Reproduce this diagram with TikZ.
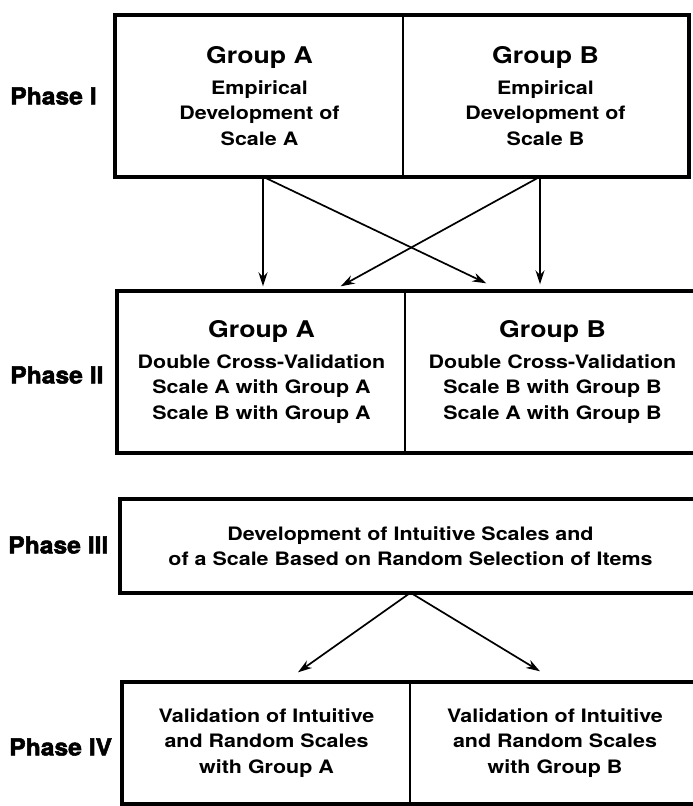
\documentclass[tikz,border=0pt]{standalone}
\usepackage{fontspec}
\setmainfont{TeX Gyre Heros}
\newfontfamily\bodyfam{TeX Gyre Heros}[FakeStretch=1.16]
\newfontfamily\phasefam{TeX Gyre Heros}[FakeStretch=1.05,BoldFeatures={FakeBold=2.2}]
\usetikzlibrary{arrows.meta,calc}
\newcommand{\headtxt}{\fontsize{23}{28}\selectfont\bfseries}
\tikzset{
  cell/.style={draw, line width=1.4pt, inner sep=0pt, align=center,
    font=\bodyfam\fontsize{18.5}{25.5}\selectfont\bfseries},
  frame/.style={draw, line width=4.2pt, line join=miter},
  phase/.style={anchor=west, inner sep=0pt, font=\phasefam\fontsize{23.5}{28}\selectfont\bfseries},
  arr/.style={line width=1.7pt, -{Stealth[length=14pt,width=9pt]}},
}
\begin{document}
\begin{tikzpicture}[x=1pt,y=-1pt]
\useasboundingbox (0,0) rectangle (693,806);
\clip (0,0) rectangle (693,806);
\fill[white] (0,0) rectangle (693,806);

% Phase I
\node[cell, minimum width=287pt, minimum height=160pt] (p1a) at (259.5,96)
  {{\headtxt Group A}\\[5pt] Empirical\\ Development of\\ Scale A};
\node[cell, minimum width=285pt, minimum height=160pt] (p1b) at (545.5,96)
  {{\headtxt Group B}\\[5pt] Empirical\\ Development of\\ Scale B};
\draw[frame] (p1a.north west) rectangle (p1b.south east);

% Phase II
\node[cell, minimum width=287pt, minimum height=160pt] (p2a) at (261.5,372)
  {{\headtxt Group A}\\[5pt] Double Cross-Validation\\ Scale A with Group A\\ Scale B with Group A};
\node[cell, minimum width=295pt, minimum height=160pt] (p2b) at (552.5,372)
  {{\headtxt Group B}\\[5pt] Double Cross-Validation\\ Scale B with Group B\\ Scale A with Group B};
\draw[frame] (p2a.north west) rectangle (p2b.south east);

% Phase III
\node[cell, minimum width=579pt, minimum height=92pt] (p3) at (410.5,546)
  {Development of Intuitive Scales and\\ of a Scale Based on Random Selection of Items};
\draw[frame] (p3.north west) rectangle (p3.south east);

% Phase IV
\node[cell, minimum width=287pt, minimum height=120pt] (p4a) at (266.5,743)
  {Validation of Intuitive\\ and Random Scales\\ with Group A};
\node[cell, minimum width=290pt, minimum height=120pt] (p4b) at (555,743)
  {Validation of Intuitive\\ and Random Scales\\ with Group B};
\draw[frame] (p4a.north west) rectangle (p4b.south east);

% Phase labels
\node[phase] (l1) at (10,96) {Phase I};
\node[phase] (l2) at (10,375) {Phase II};
\node[phase] (l3) at (8,545) {Phase III};
\node[phase] (l4) at (9,747) {Phase IV};

% Arrows Phase I -> Phase II
\coordinate (sa) at ($(p1a.south)+(3.5,0)$);
\coordinate (sb) at ($(p1b.south)+(-5.5,0)$);
\draw[arr] (sa) -- ($(sa |- p2a.north)+(0,-5)$);
\draw[arr] (sb) -- ($(sb |- p2b.north)+(0,-7)$);
\draw[arr] (sa) -- ($(p2b.north west)+(82,-8)$);
\draw[arr] (sb) -- ($(p2a.north east)+(-65,-5)$);

% Arrows Phase III -> Phase IV
\draw[arr] (p3.south) -- ($(p4a.north)+(31.5,-10)$);
\draw[arr] (p3.south) -- ($(p4b.north)+(-15,-11)$);
\end{tikzpicture}
\end{document}
